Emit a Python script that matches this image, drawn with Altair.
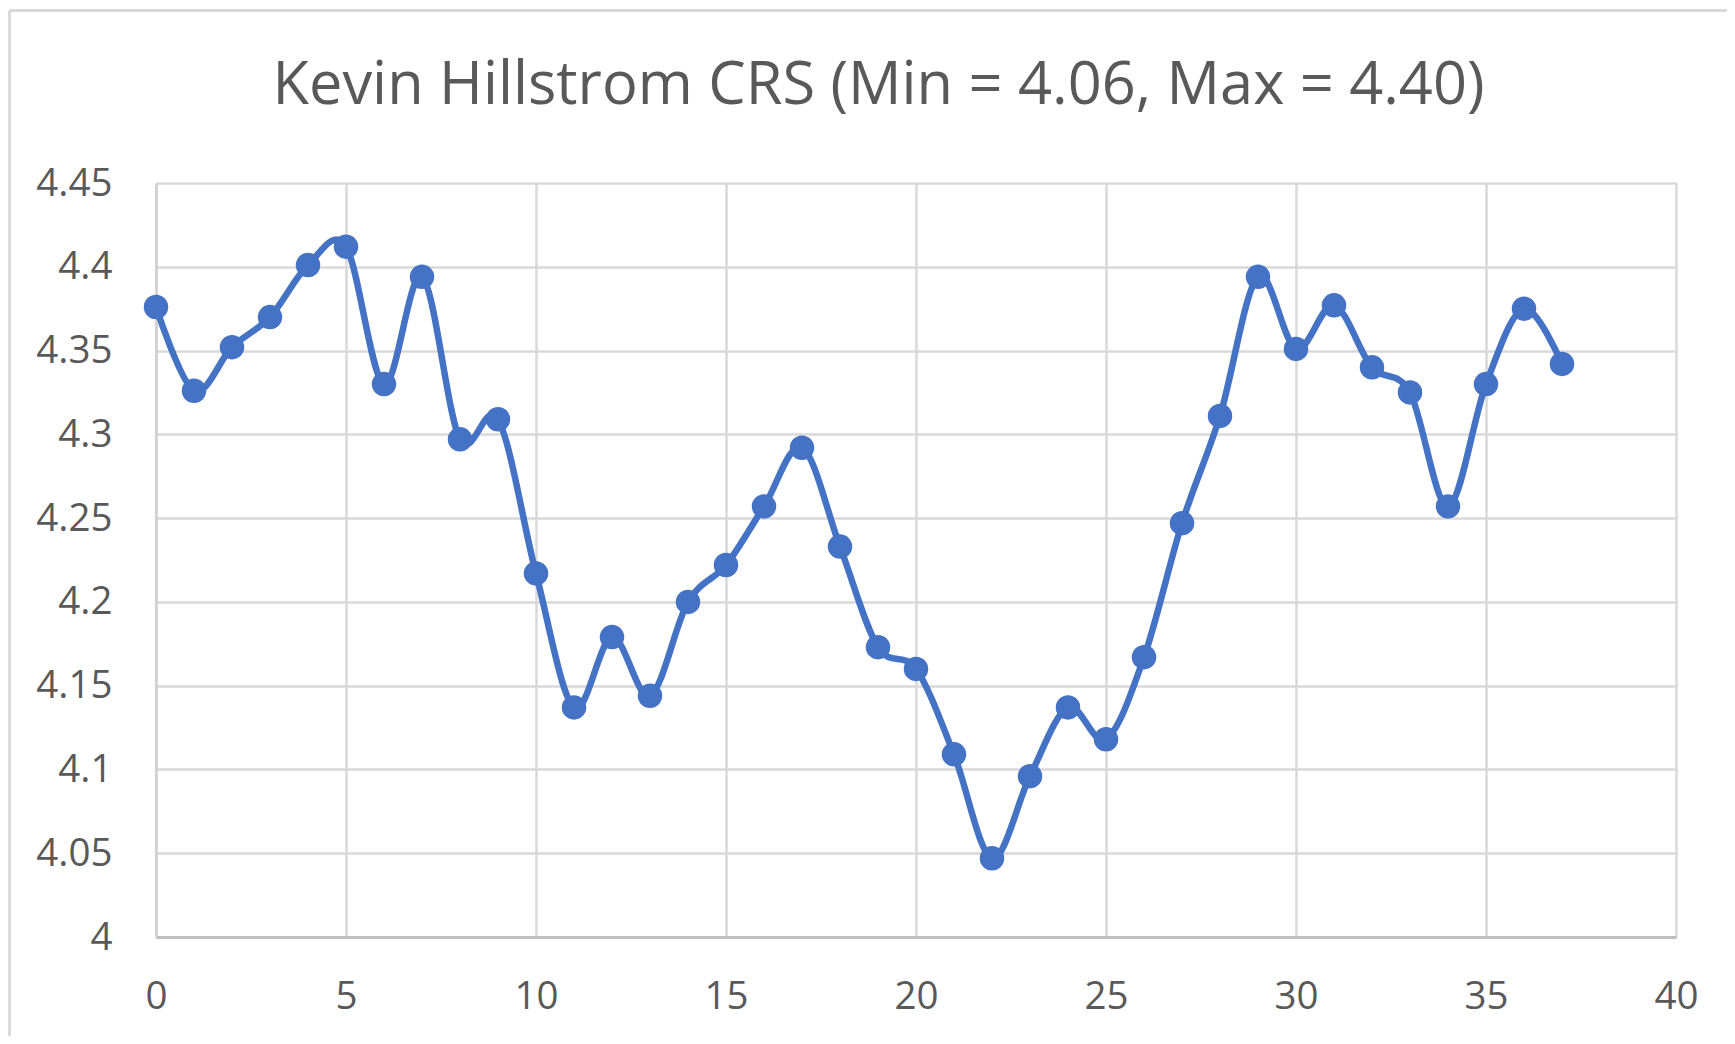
import altair as alt
import pandas as pd

period = list(range(38))
crs = [4.376, 4.326, 4.352, 4.370, 4.401, 4.412, 4.330, 4.394, 4.297, 4.309,
       4.217, 4.137, 4.179, 4.144, 4.200, 4.222, 4.257, 4.292, 4.233, 4.173,
       4.160, 4.109, 4.047, 4.096, 4.137, 4.118, 4.167, 4.247, 4.311, 4.394,
       4.351, 4.377, 4.340, 4.325, 4.257, 4.330, 4.375, 4.342]
x_ticks = [0, 5, 10, 15, 20, 25, 30, 35, 40]
y_ticks = [4.0, 4.05, 4.1, 4.15, 4.2, 4.25, 4.3, 4.35, 4.4, 4.45]
title_text = "Kevin Hillstrom CRS (Min = 4.06, Max = 4.40)"

df = pd.DataFrame({"period": period, "crs": crs})

W, H = 1520, 754
FONT = "Open Sans"
TXT = "#595959"
BLUE = "#4472C4"

x_enc = alt.X(
    "period:Q",
    scale=alt.Scale(domain=[0, 40], nice=False, zero=False),
    axis=alt.Axis(values=x_ticks, title=None, ticks=False, tickSize=0,
                  labelPadding=41, labelFont=FONT, labelFontSize=38.5,
                  labelColor=TXT, grid=True, gridColor="#d9d9d9", gridWidth=2.5,
                  domain=True, domainColor="#bfbfbf", domainWidth=3,
                  labelFlush=False),
)
y_enc = alt.Y(
    "crs:Q",
    scale=alt.Scale(domain=[4.0, 4.45], nice=False, zero=False),
    axis=alt.Axis(values=y_ticks, format="~g", title=None, ticks=False, tickSize=0,
                  labelPadding=44, labelFont=FONT, labelFontSize=38.5,
                  labelColor=TXT, grid=True, gridColor="#d9d9d9", gridWidth=2.5,
                  domain=True, domainColor="#d0d0d0", domainWidth=2.5,
                  labelFlush=False),
)

base = alt.Chart(df)
line = base.mark_line(interpolate="cardinal", color=BLUE, strokeWidth=6.5).encode(x=x_enc, y=y_enc)
points = base.mark_circle(color=BLUE, size=600, opacity=1).encode(x="period:Q", y="crs:Q")

frame_df = pd.DataFrame({"t": [title_text]})
top_border = alt.Chart(frame_df).mark_rule(color="#d9d9d9", strokeWidth=3).encode(
    x=alt.value(-146.5), x2=alt.value(2000), y=alt.value(-172.5))
left_border = alt.Chart(frame_df).mark_rule(color="#d9d9d9", strokeWidth=3).encode(
    x=alt.value(-146.5), y=alt.value(-172.5), y2=alt.value(2000))
title = alt.Chart(frame_df).mark_text(
    font=FONT, fontSize=59.5, color=TXT, align="center", baseline="alphabetic"
).encode(text="t:N", x=alt.value(W / 2 - 37.5), y=alt.value(-79))

chart = alt.layer(top_border, left_border, line, points, title).properties(
    width=W, height=H,
    padding={"left": 148, "top": 175, "right": 51, "bottom": 99},
    autosize=alt.AutoSizeParams(type="none"),
).configure_view(strokeWidth=0).configure(background="white")

chart.save("out.html", embed_options={"renderer": "svg", "actions": False})
